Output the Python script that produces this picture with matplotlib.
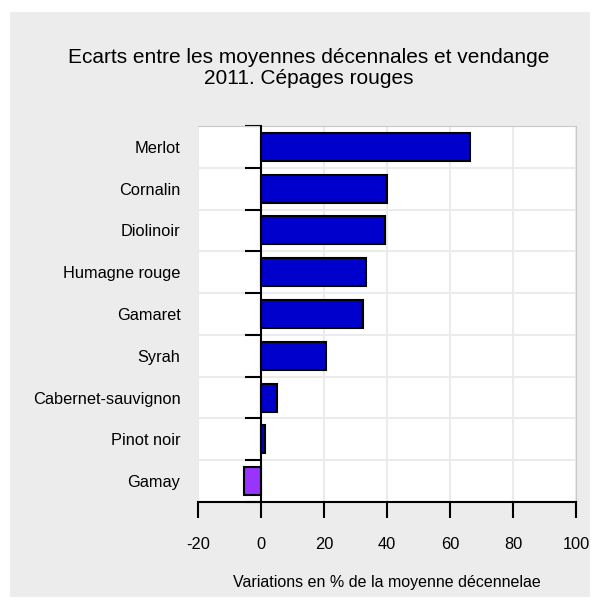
import matplotlib.pyplot as plt
from matplotlib.patches import Rectangle
from matplotlib.ticker import FixedLocator

plt.rcParams["font.family"] = ["Liberation Sans", "DejaVu Sans"]

# données, du haut vers le bas
cepages = ["Merlot", "Cornalin", "Diolinoir", "Humagne rouge", "Gamaret",
           "Syrah", "Cabernet-sauvignon", "Pinot noir", "Gamay"]
ecarts = [66.3, 40.1, 39.3, 33.2, 32.3, 20.5, 5.2, 1.4, -5.5]
couleurs = ["#0000cc"] * 8 + ["#9933ff"]
x_ticks = [-20, 0, 20, 40, 60, 80, 100]

fig = plt.figure(figsize=(6.0, 6.08), dpi=100)
fig.patches.append(Rectangle((10 / 600, 11 / 608), 580 / 600, 585 / 608,
                             transform=fig.transFigure, facecolor="#ececec",
                             edgecolor="none", zorder=-10))

ax = fig.add_axes([198 / 600, 1 - 502 / 608, 378 / 600, 376 / 608])
ax.set_facecolor("white")

n = len(cepages)
ypos = list(range(n - 1, -1, -1))
ax.barh(ypos, ecarts, height=0.67, color=couleurs, edgecolor="black",
        linewidth=1.5, zorder=3)

ax.set_xlim(-20, 100)
ax.set_ylim(-0.5, n - 0.5)

# graduations aux limites des catégories, libellés au centre
bornes = [i + 0.5 for i in range(-1, n)]
ax.yaxis.set_major_locator(FixedLocator(bornes))
ax.yaxis.set_minor_locator(FixedLocator(ypos))
ax.set_yticklabels([], minor=False)
ax.set_yticklabels(cepages, minor=True)
ax.tick_params(axis="y", which="major", length=11.5, width=1.5, color="black",
               direction="out")
ax.tick_params(axis="y", which="minor", length=0, pad=58, labelsize=11.8)

ax.set_xticks(x_ticks)
ax.set_xticklabels([str(v) for v in x_ticks])
ax.tick_params(axis="x", length=11.5, width=1.5, color="black", pad=14,
               labelsize=11.8)

ax.spines["left"].set_position(("data", 0))
ax.spines["left"].set_linewidth(1.5)
ax.spines["left"].set_zorder(4)
ax.spines["bottom"].set_linewidth(1.5)
for s in ["top", "right"]:
    ax.spines[s].set_color("#c8c8c8")
    ax.spines[s].set_linewidth(0.8)

ax.grid(True, which="major", color="#ebebeb", linewidth=1.5, zorder=0)
ax.set_axisbelow(True)

ax.set_xlabel("Variations en % de la moyenne décennelae", fontsize=11.5,
              labelpad=16)

fig.text(309 / 600, 1 - 68 / 608,
         "Ecarts entre les moyennes décennales et vendange\n2011. Cépages rouges",
         ha="center", va="center", fontsize=15, linespacing=1.1)

fig.savefig("out.png", dpi=100, facecolor="white")
